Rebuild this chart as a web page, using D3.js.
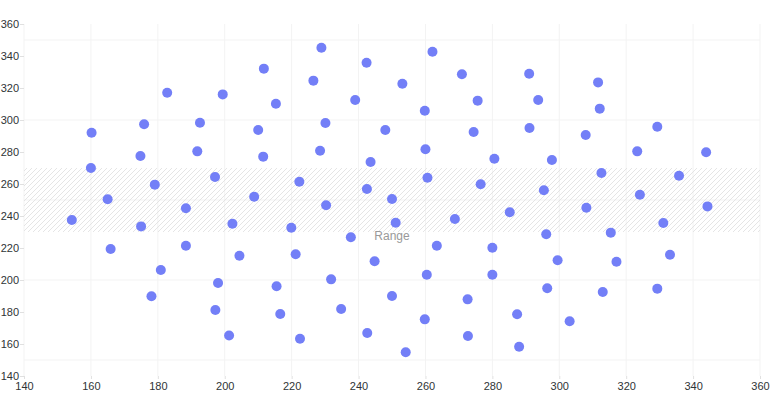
<!DOCTYPE html>
<html>
<head>
<meta charset="utf-8">
<script src="https://cdn.jsdelivr.net/npm/d3@7"></script>
<style>
  body { margin: 0; background: #fff; }
  svg { display: block; font-family: "Liberation Sans", Arial, sans-serif; }
  .tick text { fill: #2f3436; font-size: 11px; }
  .tick line { stroke: #e0e0e0; }
</style>
</head>
<body>
<svg width="784" height="400"></svg>
<script>
// point values
var xValues = [160.2, 160, 165, 182.8, 175.9, 174.8, 179.1, 199.4, 192.6, 191.8,
  197.1, 211.7, 210, 211.5, 208.8, 154.3, 175, 188.4, 165.9, 188.4,
  202.3, 204.4, 180.9, 178.1, 198, 197.2, 201.3, 215.3, 222.3, 228.9,
  226.5, 230.1, 228.5, 242.5, 242.4, 239, 248, 243.6, 250, 253.1,
  262.1, 259.8, 260, 260.6, 270.9, 275.6, 274.4, 280.6, 276.5, 230.3,
  219.9, 251.1, 237.7, 221.2, 244.8, 263.4, 268.8, 285.2, 280, 260.4,
  280, 215.5, 231.8, 250, 272.6, 216.6, 234.8, 259.8, 287.4, 222.5,
  242.6, 272.7, 254.1, 288, 291, 293.7, 291.1, 297.8, 295.4, 311.6,
  312.1, 307.9, 312.6, 329.3, 323.3, 335.8, 324.1, 343.9, 308.1, 344.3,
  331.1, 296.1, 315.4, 299.5, 317.1, 333.1, 296.4, 313, 329.3, 303.1];
var yValues = [292, 270, 250.5, 317, 297.3, 277.5, 259.6, 316, 298.3, 280.4,
  264.4, 332.1, 293.7, 277.1, 252, 237.5, 233.5, 244.8, 219.4, 221.4,
  235.2, 215.2, 206.2, 189.8, 198.1, 181.2, 165.3, 310.2, 261.4, 345.2,
  324.6, 298.1, 280.8, 256.9, 335.8, 312.5, 293.7, 273.7, 250.6, 322.7,
  342.7, 305.8, 281.7, 263.9, 328.6, 312.1, 292.5, 275.8, 259.8, 246.7,
  232.7, 235.8, 226.7, 216.1, 211.7, 221.4, 238.1, 242.3, 220.2, 203.3,
  203.3, 196.1, 200.4, 190, 187.9, 178.7, 181.9, 175.4, 178.6, 163.3,
  166.9, 165, 154.8, 158.3, 328.9, 312.5, 295, 275, 256.1, 323.5,
  307.1, 290.6, 266.9, 295.8, 280.4, 265.2, 253.3, 279.8, 245.2, 246,
  235.6, 228.6, 229.6, 212.3, 211.4, 215.8, 194.8, 192.5, 194.6, 174.2];

var xTicks = [140, 160, 180, 200, 220, 240, 260, 280, 300, 320, 340, 360];
var yTicks = [140, 160, 180, 200, 220, 240, 260, 280, 300, 320, 340, 360];
var yGrid = [150, 200, 250, 300, 350];
var bandRange = [230, 270];
var bandLabel = "Range";

var svg = d3.select("svg");

var x = d3.scaleLinear().domain([140, 360]).range([24, 760]);
var y = d3.scaleLinear().domain([140, 360]).range([376, 24]);

var defs = svg.append("defs");
defs.append("pattern")
    .attr("id", "hatch")
    .attr("patternUnits", "userSpaceOnUse")
    .attr("width", 5)
    .attr("height", 5)
  .append("path")
    .attr("d", "M0,5 L5,0 M-1,1 L1,-1 M4,6 L6,4")
    .attr("stroke", "#dedede")
    .attr("stroke-width", 0.8);

// grid
svg.append("g")
  .selectAll("line")
  .data(xTicks)
  .enter().append("line")
    .attr("x1", function(d) { return x(d); })
    .attr("x2", function(d) { return x(d); })
    .attr("y1", y(360))
    .attr("y2", y(140))
    .attr("stroke", "#f3f3f3");

svg.append("g")
  .selectAll("line")
  .data(yGrid)
  .enter().append("line")
    .attr("x1", x(140))
    .attr("x2", x(360))
    .attr("y1", function(d) { return y(d); })
    .attr("y2", function(d) { return y(d); })
    .attr("stroke", "#f3f3f3");

// band
svg.append("rect")
    .attr("x", x(140))
    .attr("width", x(360) - x(140))
    .attr("y", y(bandRange[1]))
    .attr("height", y(bandRange[0]) - y(bandRange[1]))
    .attr("fill", "url(#hatch)");

svg.append("text")
    .attr("x", (x(140) + x(360)) / 2)
    .attr("y", y(bandRange[0]) + 8)
    .attr("text-anchor", "middle")
    .style("fill", "#999")
    .style("font-size", "12px")
    .text(bandLabel);

// axes
var yAxis = svg.append("g")
    .attr("transform", "translate(" + x(140) + ",0)")
    .call(d3.axisLeft(y).tickValues(yTicks).tickSize(4).tickPadding(1).tickFormat(d3.format("d")));
yAxis.select(".domain").remove();

var xAxis = svg.append("g")
    .attr("transform", "translate(0," + y(140) + ")")
    .call(d3.axisBottom(x).tickValues(xTicks).tickSize(3).tickPadding(3).tickFormat(d3.format("d")));
xAxis.select(".domain").remove();

// points
svg.append("g")
  .selectAll("circle")
  .data(xValues)
  .enter().append("circle")
    .attr("cx", function(d) { return x(d); })
    .attr("cy", function(d, i) { return y(yValues[i]); })
    .attr("r", 5)
    .attr("fill", "#737ff7");
</script>
</body>
</html>
